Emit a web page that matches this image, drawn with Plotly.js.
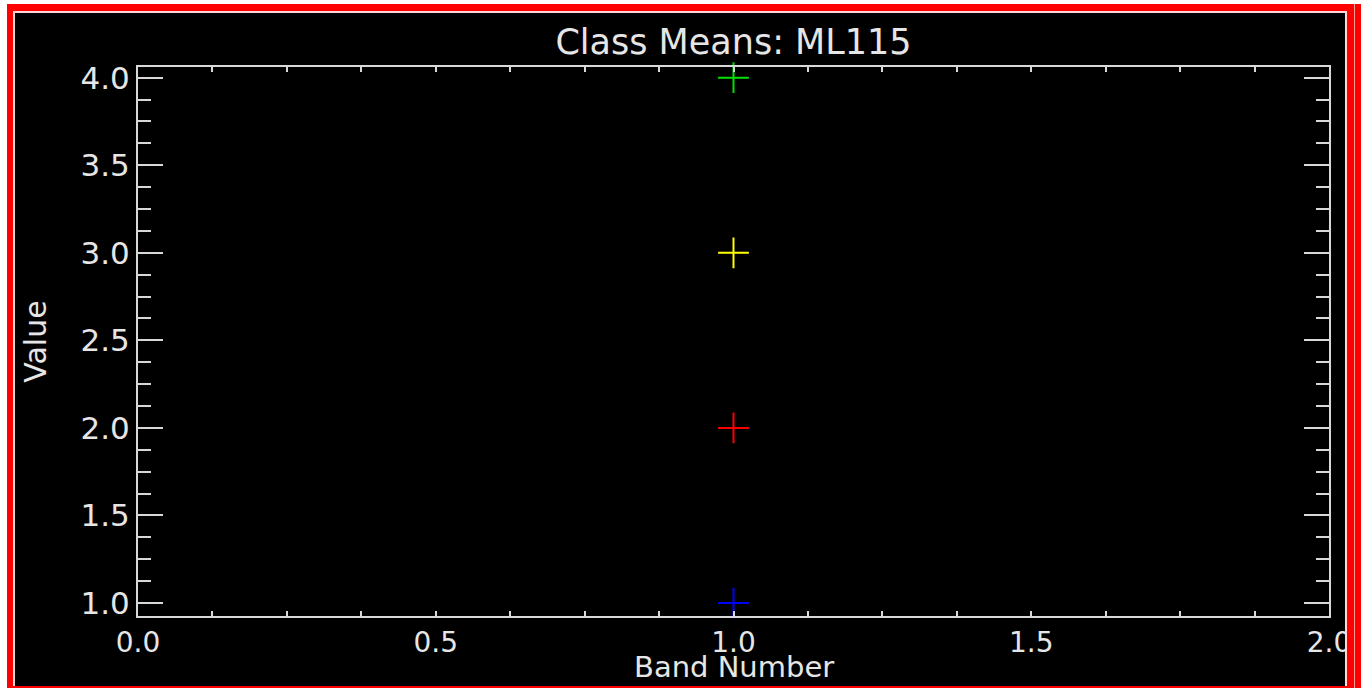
<!DOCTYPE html>
<html>
<head>
<meta charset="utf-8">
<script src="https://cdn.plot.ly/plotly-3.0.1.min.js"></script>
<style>
  html, body { margin: 0; padding: 0; background: #ffffff; }
  #wrap { position: relative; width: 1361px; height: 688px; overflow: hidden; }
  #chart { position: absolute; left: 0; top: 0; width: 1361px; height: 688px; }
  .frame { position: absolute; pointer-events: none; box-sizing: border-box; }
</style>
</head>
<body>
<div id="wrap">
  <div id="chart"></div>
  <!-- window frame -->
  <div class="frame" style="left:0;top:0;width:7px;height:688px;background:#ffffff;"></div>
  <div class="frame" style="left:0;top:0;width:1361px;height:4px;background:#ffffff;"></div>
  <div class="frame" style="left:7px;top:4px;width:1354px;height:684px;border-left:6px solid #ff0000;border-top:7px solid #ff0000;border-right:14px solid #ff0000;border-bottom:2px solid #ff0000;"></div>
  <div class="frame" style="left:1354px;top:4px;width:1px;height:684px;background:#ff9a9a;"></div>
  <div class="frame" style="left:13px;top:11px;width:1334px;height:675px;border-left:2px solid #ffd6d6;border-top:2px solid #ffd6d6;border-right:2px solid #ffd6d6;"></div>
</div>
<script>
// Data
const bandNumber = [1];
const classNames = ["Class 1", "Class 2", "Class 3", "Class 4"];
const classMeans = [[1.0], [2.0], [3.0], [4.0]];
const classColors = ["#0000ff", "#ff0000", "#ffff00", "#00e000"];
const xTickVals = [0, 0.5, 1.0, 1.5, 2.0];
const yTickVals = [1.0, 1.5, 2.0, 2.5, 3.0, 3.5, 4.0];

const axisColor = "#d8d8d8";
const textColor = "#e6e6e6";
const fontFamily = "DejaVu Sans, sans-serif";

const traces = classNames.map((name, i) => ({
  type: "scatter",
  mode: "markers",
  name: name,
  x: bandNumber,
  y: classMeans[i],
  cliponaxis: false,
  marker: {
    symbol: "cross-thin",
    size: 22,
    color: classColors[i],
    line: { color: classColors[i], width: 2 }
  },
  hoverinfo: "x+y+name"
}));

const layout = {
  width: 1361,
  height: 688,
  paper_bgcolor: "#000000",
  plot_bgcolor: "#000000",
  showlegend: false,
  margin: { l: 138, r: 32, t: 67, b: 72, pad: 0 },
  font: { family: fontFamily, color: textColor, size: 30 },
  title: {
    text: "Class Means: ML115",
    font: { family: fontFamily, size: 35, color: textColor },
    x: 0.5, xref: "paper", xanchor: "center",
    y: 1 - 42 / 688, yref: "container", yanchor: "middle"
  },
  annotations: [{
    text: "Band Number",
    xref: "paper", yref: "paper",
    x: 0.5, y: (616 - 667) / 549,
    xanchor: "center", yanchor: "middle",
    showarrow: false,
    font: { family: fontFamily, size: 29, color: textColor }
  }],
  xaxis: {
    range: [0, 2],
    tickvals: xTickVals,
    tickformat: ".1f",
    ticks: "inside",
    ticklen: 5,
    tickwidth: 2,
    tickcolor: axisColor,
    showline: true,
    linecolor: axisColor,
    linewidth: 2,
    mirror: "ticks",
    showgrid: false,
    zeroline: false,
    tickfont: { family: fontFamily, size: 28, color: textColor },
    minor: { dtick: 0.125, ticks: "inside", ticklen: 5, tickwidth: 2, tickcolor: axisColor, showgrid: false },
    automargin: false,
    fixedrange: true
  },
  yaxis: {
    range: [0.926, 4.061],
    tickvals: yTickVals,
    tickformat: ".1f",
    ticks: "inside",
    ticklen: 25,
    tickwidth: 2,
    tickcolor: axisColor,
    showline: true,
    linecolor: axisColor,
    linewidth: 2,
    mirror: "ticks",
    showgrid: false,
    zeroline: false,
    tickfont: { family: fontFamily, size: 31, color: textColor },
    minor: { dtick: 0.125, ticks: "inside", ticklen: 13, tickwidth: 2, tickcolor: axisColor, showgrid: false },
    title: { text: "Value", standoff: 25, font: { family: fontFamily, size: 30, color: textColor } },
    automargin: false,
    fixedrange: true
  }
};

Plotly.newPlot("chart", traces, layout, { displayModeBar: false });
</script>
</body>
</html>
